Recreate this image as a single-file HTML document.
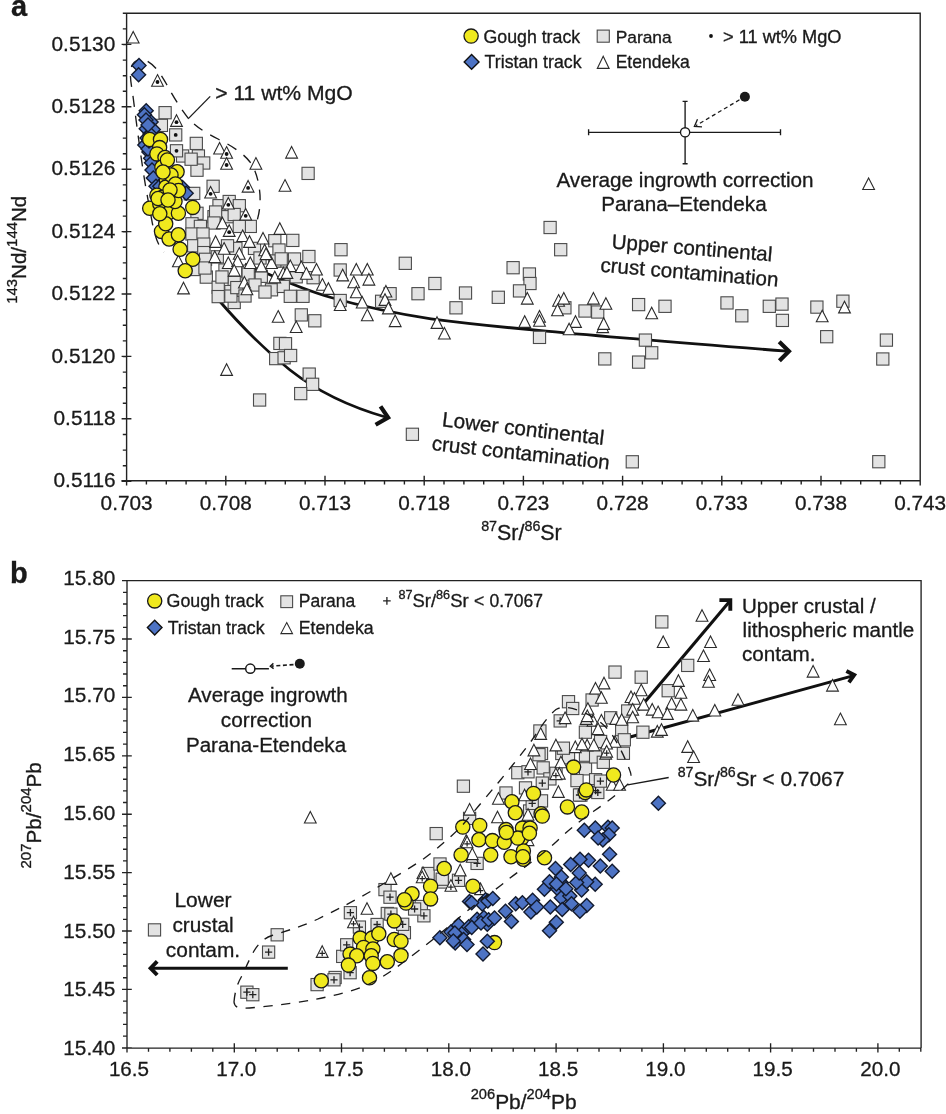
<!DOCTYPE html><html><head><meta charset="utf-8"><style>html,body{margin:0;padding:0;background:#fff;}svg{display:block;will-change:transform;}</style></head><body><svg width="946" height="1114" viewBox="0 0 946 1114" font-family='"Liberation Sans", sans-serif'>
<rect width="946" height="1114" fill="#fff"/>
<path d="M122.8,13.3H920.2V480.7M126.6,13.3V480.7M121.4,480.7H920.2M121.6,44.4H131.4M121.6,106.8H131.4M121.6,169.2H131.4M121.6,231.6H131.4M121.6,294.0H131.4M121.6,356.4H131.4M121.6,418.8H131.4M121.6,481.2H131.4M122.8,13.3H126.6M122.8,28.9H126.6M122.8,44.5H126.6M122.8,60.1H126.6M122.8,75.7H126.6M122.8,91.3H126.6M122.8,106.9H126.6M122.8,122.5H126.6M122.8,138.1H126.6M122.8,153.7H126.6M122.8,169.3H126.6M122.8,184.9H126.6M122.8,200.5H126.6M122.8,216.1H126.6M122.8,231.7H126.6M122.8,247.3H126.6M122.8,262.9H126.6M122.8,278.5H126.6M122.8,294.1H126.6M122.8,309.7H126.6M122.8,325.3H126.6M122.8,340.9H126.6M122.8,356.5H126.6M122.8,372.1H126.6M122.8,387.7H126.6M122.8,403.3H126.6M122.8,418.9H126.6M122.8,434.5H126.6M122.8,450.1H126.6M122.8,465.7H126.6M126.6,475.8V485.6M225.8,475.8V485.6M325.0,475.8V485.6M424.2,475.8V485.6M523.4,475.8V485.6M622.6,475.8V485.6M721.8,475.8V485.6M821.0,475.8V485.6M920.2,475.8V485.6M126.6,480.7V484.4M146.4,480.7V484.4M166.3,480.7V484.4M186.1,480.7V484.4M206.0,480.7V484.4M225.8,480.7V484.4M245.6,480.7V484.4M265.5,480.7V484.4M285.3,480.7V484.4M305.2,480.7V484.4M325.0,480.7V484.4M344.8,480.7V484.4M364.7,480.7V484.4M384.5,480.7V484.4M404.4,480.7V484.4M424.2,480.7V484.4M444.0,480.7V484.4M463.9,480.7V484.4M483.7,480.7V484.4M503.6,480.7V484.4M523.4,480.7V484.4M543.2,480.7V484.4M563.1,480.7V484.4M582.9,480.7V484.4M602.8,480.7V484.4M622.6,480.7V484.4M642.4,480.7V484.4M662.3,480.7V484.4M682.1,480.7V484.4M702.0,480.7V484.4M721.8,480.7V484.4M741.6,480.7V484.4M761.5,480.7V484.4M781.3,480.7V484.4M801.2,480.7V484.4M821.0,480.7V484.4M840.8,480.7V484.4M860.7,480.7V484.4M880.5,480.7V484.4M900.4,480.7V484.4M920.2,480.7V484.4" fill="none" stroke="#222" stroke-width="1.4"/>
<path d="M122,580.6H921.1V1048.1M127.0,580.6V1048.1M122,1048.1H921.1M122,580.6H131.8M122,639.0H131.8M122,697.4H131.8M122,755.8H131.8M122,814.2H131.8M122,872.6H131.8M122,931.0H131.8M122,989.4H131.8M122,1047.8H131.8M123,580.6H127.0M123,592.3H127.0M123,604.0H127.0M123,615.6H127.0M123,627.3H127.0M123,639.0H127.0M123,650.7H127.0M123,662.4H127.0M123,674.0H127.0M123,685.7H127.0M123,697.4H127.0M123,709.1H127.0M123,720.8H127.0M123,732.4H127.0M123,744.1H127.0M123,755.8H127.0M123,767.5H127.0M123,779.2H127.0M123,790.8H127.0M123,802.5H127.0M123,814.2H127.0M123,825.9H127.0M123,837.6H127.0M123,849.2H127.0M123,860.9H127.0M123,872.6H127.0M123,884.3H127.0M123,896.0H127.0M123,907.6H127.0M123,919.3H127.0M123,931.0H127.0M123,942.7H127.0M123,954.4H127.0M123,966.0H127.0M123,977.7H127.0M123,989.4H127.0M123,1001.1H127.0M123,1012.8H127.0M123,1024.4H127.0M123,1036.1H127.0M123,1047.8H127.0M127.0,1043.3V1052.5M234.3,1043.3V1052.5M341.5,1043.3V1052.5M448.8,1043.3V1052.5M556.1,1043.3V1052.5M663.4,1043.3V1052.5M770.6,1043.3V1052.5M877.9,1043.3V1052.5M127.0,1048.1V1051.7M148.5,1048.1V1051.7M169.9,1048.1V1051.7M191.4,1048.1V1051.7M212.8,1048.1V1051.7M234.3,1048.1V1051.7M255.7,1048.1V1051.7M277.2,1048.1V1051.7M298.6,1048.1V1051.7M320.1,1048.1V1051.7M341.5,1048.1V1051.7M363.0,1048.1V1051.7M384.4,1048.1V1051.7M405.9,1048.1V1051.7M427.4,1048.1V1051.7M448.8,1048.1V1051.7M470.3,1048.1V1051.7M491.7,1048.1V1051.7M513.2,1048.1V1051.7M534.6,1048.1V1051.7M556.1,1048.1V1051.7M577.5,1048.1V1051.7M599.0,1048.1V1051.7M620.4,1048.1V1051.7M641.9,1048.1V1051.7M663.4,1048.1V1051.7M684.8,1048.1V1051.7M706.3,1048.1V1051.7M727.7,1048.1V1051.7M749.2,1048.1V1051.7M770.6,1048.1V1051.7M792.1,1048.1V1051.7M813.5,1048.1V1051.7M835.0,1048.1V1051.7M856.4,1048.1V1051.7M877.9,1048.1V1051.7M899.3,1048.1V1051.7M920.8,1048.1V1051.7" fill="none" stroke="#222" stroke-width="1.35"/>
<path d="M188.7,118.8 C180,108 173,96 167,85 C162,76 156,66 147,61 C138,57 131,62 130.5,72 C130,80 132,88 133.5,100 C136,120 140,150 143,170 C146,190 149,205 152.5,224 C155,236 158,246 164,252" fill="none" stroke="#1a1a1a" stroke-width="1.35" stroke-dasharray="11 9"/>
<path d="M188.7,118.8 C196,127 206,133 218,139 C232,146 243,153 250,162 C256,170 259,182 260,195 C260.5,207 259,215 256,224" fill="none" stroke="#1a1a1a" stroke-width="1.35" stroke-dasharray="10.5 9" stroke-dashoffset="12"/>
<path d="M245,264 C273,276 300,289 331,297.5 C366,307.5 396,313.5 431,318.8 C490,326.5 560,333.3 787,351.2" stroke="#111" stroke-width="2.8" fill="none"/>
<path d="M779.2,341.8L788.9,351.3L779.4,360.8" stroke="#111" stroke-width="4.2" fill="none" stroke-linejoin="miter"/>
<path d="M216,297 C240,325 265,350 290,370 C318,392 350,407 387,417.5" stroke="#111" stroke-width="2.8" fill="none"/>
<path d="M380.5,406.3L388.1,417.6L375.6,424.8" stroke="#111" stroke-width="4.2" fill="none" stroke-linejoin="miter"/>
<g fill="#e3e3e3" stroke="#4a4a4a" stroke-width="1.1"><rect x="159.0" y="106.6" width="12.2" height="12.2"/><rect x="155.3" y="119.3" width="12.2" height="12.2"/><rect x="190.2" y="137.3" width="12.2" height="12.2"/><rect x="176.5" y="149.9" width="12.2" height="12.2"/><rect x="192.3" y="149.9" width="12.2" height="12.2"/><rect x="197.6" y="156.9" width="12.2" height="12.2"/><rect x="190.9" y="164.1" width="12.2" height="12.2"/><rect x="185.0" y="153.1" width="12.2" height="12.2"/><rect x="207.0" y="180.2" width="12.2" height="12.2"/><rect x="184.2" y="187.8" width="12.2" height="12.2"/><rect x="212.9" y="199.6" width="12.2" height="12.2"/><rect x="223.1" y="195.4" width="12.2" height="12.2"/><rect x="233.2" y="199.6" width="12.2" height="12.2"/><rect x="190.9" y="207.2" width="12.2" height="12.2"/><rect x="207.9" y="210.6" width="12.2" height="12.2"/><rect x="221.4" y="210.6" width="12.2" height="12.2"/><rect x="187.6" y="187.3" width="12.2" height="12.2"/><rect x="209.5" y="205.9" width="12.2" height="12.2"/><rect x="228.1" y="208.4" width="12.2" height="12.2"/><rect x="185.9" y="217.7" width="12.2" height="12.2"/><rect x="194.3" y="220.3" width="12.2" height="12.2"/><rect x="207.9" y="216.9" width="12.2" height="12.2"/><rect x="244.2" y="220.3" width="12.2" height="12.2"/><rect x="233.2" y="220.3" width="12.2" height="12.2"/><rect x="185.9" y="227.9" width="12.2" height="12.2"/><rect x="196.9" y="227.9" width="12.2" height="12.2"/><rect x="187.6" y="239.7" width="12.2" height="12.2"/><rect x="197.7" y="238.0" width="12.2" height="12.2"/><rect x="197.7" y="246.5" width="12.2" height="12.2"/><rect x="268.7" y="234.6" width="12.2" height="12.2"/><rect x="229.8" y="242.3" width="12.2" height="12.2"/><rect x="248.4" y="242.3" width="12.2" height="12.2"/><rect x="272.9" y="243.9" width="12.2" height="12.2"/><rect x="199.4" y="253.2" width="12.2" height="12.2"/><rect x="211.2" y="250.7" width="12.2" height="12.2"/><rect x="241.7" y="265.1" width="12.2" height="12.2"/><rect x="255.2" y="270.2" width="12.2" height="12.2"/><rect x="200.2" y="271.0" width="12.2" height="12.2"/><rect x="187.6" y="263.4" width="12.2" height="12.2"/><rect x="212.1" y="281.2" width="12.2" height="12.2"/><rect x="228.1" y="276.1" width="12.2" height="12.2"/><rect x="224.8" y="285.4" width="12.2" height="12.2"/><rect x="212.1" y="290.5" width="12.2" height="12.2"/><rect x="228.1" y="296.4" width="12.2" height="12.2"/><rect x="265.4" y="283.7" width="12.2" height="12.2"/><rect x="277.2" y="280.3" width="12.2" height="12.2"/><rect x="277.2" y="254.9" width="12.2" height="12.2"/><rect x="268.7" y="254.9" width="12.2" height="12.2"/><rect x="221.4" y="239.7" width="12.2" height="12.2"/><rect x="224.8" y="290.0" width="12.2" height="12.2"/><rect x="230.7" y="281.5" width="12.2" height="12.2"/><rect x="273.8" y="337.3" width="12.2" height="12.2"/><rect x="269.6" y="352.5" width="12.2" height="12.2"/><rect x="278.0" y="351.7" width="12.2" height="12.2"/><rect x="253.5" y="393.9" width="12.2" height="12.2"/><rect x="302.0" y="167.3" width="12.2" height="12.2"/><rect x="286.7" y="234.3" width="12.2" height="12.2"/><rect x="288.4" y="252.9" width="12.2" height="12.2"/><rect x="302.8" y="250.4" width="12.2" height="12.2"/><rect x="290.1" y="270.7" width="12.2" height="12.2"/><rect x="307.0" y="271.6" width="12.2" height="12.2"/><rect x="284.2" y="290.2" width="12.2" height="12.2"/><rect x="296.9" y="290.2" width="12.2" height="12.2"/><rect x="334.9" y="243.6" width="12.2" height="12.2"/><rect x="334.1" y="263.9" width="12.2" height="12.2"/><rect x="334.1" y="294.4" width="12.2" height="12.2"/><rect x="399.2" y="257.2" width="12.2" height="12.2"/><rect x="384.0" y="287.6" width="12.2" height="12.2"/><rect x="375.5" y="295.2" width="12.2" height="12.2"/><rect x="411.9" y="287.6" width="12.2" height="12.2"/><rect x="295.2" y="308.8" width="12.2" height="12.2"/><rect x="308.7" y="314.7" width="12.2" height="12.2"/><rect x="279.4" y="337.6" width="12.2" height="12.2"/><rect x="284.5" y="349.4" width="12.2" height="12.2"/><rect x="303.1" y="368.0" width="12.2" height="12.2"/><rect x="306.5" y="378.2" width="12.2" height="12.2"/><rect x="294.6" y="387.5" width="12.2" height="12.2"/><rect x="406.3" y="428.2" width="12.2" height="12.2"/><rect x="428.8" y="277.4" width="12.2" height="12.2"/><rect x="459.4" y="286.9" width="12.2" height="12.2"/><rect x="449.9" y="301.7" width="12.2" height="12.2"/><rect x="492.2" y="291.2" width="12.2" height="12.2"/><rect x="507.0" y="261.6" width="12.2" height="12.2"/><rect x="544.0" y="221.4" width="12.2" height="12.2"/><rect x="554.6" y="243.6" width="12.2" height="12.2"/><rect x="523.3" y="267.9" width="12.2" height="12.2"/><rect x="523.9" y="277.4" width="12.2" height="12.2"/><rect x="513.4" y="284.8" width="12.2" height="12.2"/><rect x="533.4" y="331.3" width="12.2" height="12.2"/><rect x="558.8" y="301.7" width="12.2" height="12.2"/><rect x="578.9" y="304.9" width="12.2" height="12.2"/><rect x="591.6" y="305.9" width="12.2" height="12.2"/><rect x="632.5" y="298.5" width="12.2" height="12.2"/><rect x="658.9" y="300.2" width="12.2" height="12.2"/><rect x="639.3" y="334.0" width="12.2" height="12.2"/><rect x="645.6" y="346.7" width="12.2" height="12.2"/><rect x="632.5" y="356.0" width="12.2" height="12.2"/><rect x="598.7" y="352.8" width="12.2" height="12.2"/><rect x="720.9" y="296.8" width="12.2" height="12.2"/><rect x="735.7" y="309.7" width="12.2" height="12.2"/><rect x="763.2" y="300.2" width="12.2" height="12.2"/><rect x="775.9" y="298.0" width="12.2" height="12.2"/><rect x="776.3" y="314.3" width="12.2" height="12.2"/><rect x="810.8" y="301.0" width="12.2" height="12.2"/><rect x="836.8" y="295.1" width="12.2" height="12.2"/><rect x="820.6" y="330.6" width="12.2" height="12.2"/><rect x="880.3" y="334.0" width="12.2" height="12.2"/><rect x="876.7" y="352.9" width="12.2" height="12.2"/><rect x="626.2" y="455.7" width="12.2" height="12.2"/><rect x="872.7" y="455.6" width="12.2" height="12.2"/><rect x="242.1" y="268.0" width="12.2" height="12.2"/><rect x="275.1" y="252.8" width="12.2" height="12.2"/><rect x="218.9" y="263.9" width="12.2" height="12.2"/><rect x="253.9" y="251.9" width="12.2" height="12.2"/><rect x="198.9" y="261.9" width="12.2" height="12.2"/><rect x="215.9" y="270.9" width="12.2" height="12.2"/><rect x="248.9" y="278.9" width="12.2" height="12.2"/><rect x="258.9" y="285.9" width="12.2" height="12.2"/><rect x="238.9" y="289.9" width="12.2" height="12.2"/></g><g fill="#e3e3e3" stroke="#4a4a4a" stroke-width="1.1"><rect x="169.6" y="128.8" width="12.2" height="12.2"/><rect x="170.4" y="144.7" width="12.2" height="12.2"/></g><g fill="#111"><circle cx="175.7" cy="134.9" r="1.9"/><circle cx="176.5" cy="150.8" r="1.9"/></g><g fill="#fff" stroke="#2b2b2b" stroke-width="1.1" stroke-linejoin="miter"><path d="M133.2,31.4L139.1,43.0L127.3,43.0Z"/><path d="M219.6,142.4L225.5,154.0L213.7,154.0Z"/><path d="M255.9,157.6L261.8,169.2L250.0,169.2Z"/><path d="M285,179.6L290.9,191.2L279.1,191.2Z"/><path d="M291.6,146.5L297.5,158.1L285.7,158.1Z"/><path d="M279.8,222.8L285.7,234.4L273.9,234.4Z"/><path d="M222.4,217.2L228.3,228.8L216.5,228.8Z"/><path d="M242.7,229.9L248.6,241.5L236.8,241.5Z"/><path d="M263,232.4L268.9,244.0L257.1,244.0Z"/><path d="M215.6,235.8L221.5,247.4L209.7,247.4Z"/><path d="M224.1,242.6L230.0,254.2L218.2,254.2Z"/><path d="M249.5,235.8L255.4,247.4L243.6,247.4Z"/><path d="M239.3,247.6L245.2,259.2L233.4,259.2Z"/><path d="M264.7,244.2L270.6,255.8L258.8,255.8Z"/><path d="M214.8,251.0L220.7,262.6L208.9,262.6Z"/><path d="M228.3,256.9L234.2,268.5L222.4,268.5Z"/><path d="M250.3,256.9L256.2,268.5L244.4,268.5Z"/><path d="M261.3,260.3L267.2,271.9L255.4,271.9Z"/><path d="M271.5,256.9L277.4,268.5L265.6,268.5Z"/><path d="M237.6,255.2L243.5,266.8L231.7,266.8Z"/><path d="M234.2,264.5L240.1,276.1L228.3,276.1Z"/><path d="M178.4,255.2L184.3,266.8L172.5,266.8Z"/><path d="M183.5,282.3L189.4,293.9L177.6,293.9Z"/><path d="M244.4,276.4L250.3,288.0L238.5,288.0Z"/><path d="M246.9,283.1L252.8,294.7L241.0,294.7Z"/><path d="M274.8,271.3L280.7,282.9L268.9,282.9Z"/><path d="M283.3,267.1L289.2,278.7L277.4,278.7Z"/><path d="M278.2,310.6L284.1,322.2L272.3,322.2Z"/><path d="M226.6,363.8L232.5,375.4L220.7,375.4Z"/><path d="M290.3,260.0L296.2,271.6L284.4,271.6Z"/><path d="M301.3,260.9L307.2,272.5L295.4,272.5Z"/><path d="M316.5,263.4L322.4,275.0L310.6,275.0Z"/><path d="M286.9,266.8L292.8,278.4L281.0,278.4Z"/><path d="M306.4,267.6L312.3,279.2L300.5,279.2Z"/><path d="M322.4,278.6L328.3,290.2L316.5,290.2Z"/><path d="M328.4,282.8L334.3,294.4L322.5,294.4Z"/><path d="M342.7,269.3L348.6,280.9L336.8,280.9Z"/><path d="M356.3,263.4L362.2,275.0L350.4,275.0Z"/><path d="M367.3,263.4L373.2,275.0L361.4,275.0Z"/><path d="M353.7,276.1L359.6,287.7L347.8,287.7Z"/><path d="M368.9,273.5L374.8,285.1L363.0,285.1Z"/><path d="M356.3,286.2L362.2,297.8L350.4,297.8Z"/><path d="M340.2,298.9L346.1,310.5L334.3,310.5Z"/><path d="M362.2,296.4L368.1,308.0L356.3,308.0Z"/><path d="M367.3,309.1L373.2,320.7L361.4,320.7Z"/><path d="M385.9,285.4L391.8,297.0L380.0,297.0Z"/><path d="M385,293.8L390.9,305.4L379.1,305.4Z"/><path d="M388.4,302.3L394.3,313.9L382.5,313.9Z"/><path d="M395.2,315.0L401.1,326.6L389.3,326.6Z"/><path d="M296.2,320.9L302.1,332.5L290.3,332.5Z"/><path d="M437,316.8L442.9,328.4L431.1,328.4Z"/><path d="M444.4,327.4L450.3,339.0L438.5,339.0Z"/><path d="M527.3,292.5L533.2,304.1L521.4,304.1Z"/><path d="M524.7,315.8L530.6,327.4L518.8,327.4Z"/><path d="M539.5,310.5L545.4,322.1L533.6,322.1Z"/><path d="M539.5,314.7L545.4,326.3L533.6,326.3Z"/><path d="M558.6,294.6L564.5,306.2L552.7,306.2Z"/><path d="M563.8,292.5L569.7,304.1L557.9,304.1Z"/><path d="M557.5,304.1L563.4,315.7L551.6,315.7Z"/><path d="M575.5,315.8L581.4,327.4L569.6,327.4Z"/><path d="M569.1,323.2L575.0,334.8L563.2,334.8Z"/><path d="M593.4,292.5L599.3,304.1L587.5,304.1Z"/><path d="M605.9,297.7L611.8,309.3L600.0,309.3Z"/><path d="M602.7,321.0L608.6,332.6L596.8,332.6Z"/><path d="M603.7,317.8L609.6,329.4L597.8,329.4Z"/><path d="M651.7,307.2L657.6,318.8L645.8,318.8Z"/><path d="M868.6,177.9L874.5,189.5L862.7,189.5Z"/><path d="M822.2,310.2L828.1,321.8L816.3,321.8Z"/><path d="M844.5,301.3L850.4,312.9L838.6,312.9Z"/><path d="M266,248.0L271.9,259.6L260.1,259.6Z"/></g><g fill="#fff" stroke="#2b2b2b" stroke-width="1.1" stroke-linejoin="miter"><path d="M157.5,74.6L163.4,86.2L151.6,86.2Z"/><path d="M176.5,114.8L182.4,126.4L170.6,126.4Z"/><path d="M226.6,146.6L232.5,158.2L220.7,158.2Z"/><path d="M226.6,157.6L232.5,169.2L220.7,169.2Z"/><path d="M248.1,180.5L254.0,192.1L242.2,192.1Z"/><path d="M210.6,186.4L216.5,198.0L204.7,198.0Z"/><path d="M228.3,197.4L234.2,209.0L222.4,209.0Z"/><path d="M245.7,208.4L251.6,220.0L239.8,220.0Z"/><path d="M229.2,224.8L235.1,236.4L223.3,236.4Z"/></g><g fill="#111"><circle cx="157.5" cy="82.0" r="1.9"/><circle cx="176.5" cy="122.19999999999999" r="1.9"/><circle cx="226.6" cy="154.0" r="1.9"/><circle cx="226.6" cy="165.0" r="1.9"/><circle cx="248.1" cy="187.9" r="1.9"/><circle cx="210.6" cy="193.79999999999998" r="1.9"/><circle cx="228.3" cy="204.79999999999998" r="1.9"/><circle cx="245.7" cy="215.79999999999998" r="1.9"/><circle cx="229.2" cy="232.2" r="1.9"/></g><g fill="#4d73c4" stroke="#121a2e" stroke-width="1.4" stroke-linejoin="miter"><path d="M139,58.5L146.0,65.5L139,72.5L132.0,65.5Z"/><path d="M138.6,67.8L145.6,74.8L138.6,81.8L131.6,74.8Z"/><path d="M146.2,103.8L153.2,110.8L146.2,117.8L139.2,110.8Z"/><path d="M144.4,107.8L151.4,114.8L144.4,121.8L137.4,114.8Z"/><path d="M151.1,115.0L158.1,122L151.1,129.0L144.1,122Z"/><path d="M146.2,121.69999999999999L153.2,128.7L146.2,135.7L139.2,128.7Z"/><path d="M153.3,122.6L160.3,129.6L153.3,136.6L146.3,129.6Z"/><path d="M144.8,137.9L151.8,144.9L144.8,151.9L137.8,144.9Z"/><path d="M148.9,145.1L155.9,152.1L148.9,159.1L141.9,152.1Z"/><path d="M150.6,151.3L157.6,158.3L150.6,165.3L143.6,158.3Z"/><path d="M151.5,155.8L158.5,162.8L151.5,169.8L144.5,162.8Z"/><path d="M152,163.0L159.0,170L152,177.0L145.0,170Z"/><path d="M153.3,171.1L160.3,178.1L153.3,185.1L146.3,178.1Z"/><path d="M182.5,180.5L189.5,187.5L182.5,194.5L175.5,187.5Z"/><path d="M186.2,186.2L193.2,193.2L186.2,200.2L179.2,193.2Z"/><path d="M156,179.2L163.0,186.2L156,193.2L149.0,186.2Z"/><path d="M148,142.0L155.0,149L148,156.0L141.0,149Z"/><path d="M159.8,179.3L166.8,186.3L159.8,193.3L152.8,186.3Z"/><path d="M150,127.0L157.0,134L150,141.0L143.0,134Z"/><path d="M147,131.0L154.0,138L147,145.0L140.0,138Z"/><path d="M149,134.0L156.0,141L149,148.0L142.0,141Z"/><path d="M146,113.0L153.0,120L146,127.0L139.0,120Z"/><path d="M148,118.0L155.0,125L148,132.0L141.0,125Z"/></g><g fill="#f0e91e" stroke="#1a1a1a" stroke-width="1.3"><circle cx="149.7" cy="139.5" r="7.1"/><circle cx="160.5" cy="139.5" r="7.1"/><circle cx="159.6" cy="147.6" r="7.1"/><circle cx="156.9" cy="153.9" r="7.1"/><circle cx="165" cy="157.5" r="7.1"/><circle cx="161.9" cy="167.3" r="7.1"/><circle cx="177.1" cy="171.8" r="7.1"/><circle cx="166.4" cy="179.9" r="7.1"/><circle cx="165.9" cy="187.1" r="7.1"/><circle cx="173.1" cy="195.2" r="7.1"/><circle cx="156.9" cy="195.2" r="7.1"/><circle cx="167.4" cy="160" r="7.1"/><circle cx="149.7" cy="208.2" r="7.1"/><circle cx="159.8" cy="204" r="7.1"/><circle cx="169.1" cy="212.5" r="7.1"/><circle cx="178.4" cy="213.3" r="7.1"/><circle cx="192.8" cy="207.4" r="7.1"/><circle cx="162.4" cy="197.3" r="7.1"/><circle cx="175" cy="201.5" r="7.1"/><circle cx="158.1" cy="198.5" r="7.1"/><circle cx="161.5" cy="231.4" r="7.1"/><circle cx="169.1" cy="239" r="7.1"/><circle cx="178.4" cy="234.8" r="7.1"/><circle cx="165.7" cy="223.8" r="7.1"/><circle cx="180.1" cy="249.2" r="7.1"/><circle cx="192.8" cy="259.3" r="7.1"/><circle cx="185.2" cy="270.8" r="7.1"/><circle cx="159.8" cy="213.7" r="7.1"/><circle cx="171" cy="175" r="7.1"/><circle cx="163" cy="172" r="7.1"/><circle cx="175.5" cy="184" r="7.1"/><circle cx="178.5" cy="190.5" r="7.1"/><circle cx="170" cy="190" r="7.1"/><circle cx="168" cy="200" r="7.1"/></g>
<path d="M210.2,96.4L188.8,118.1" stroke="#1a1a1a" stroke-width="1.35" fill="none"/>
<path d="M588.6,132.3H780.5M588.6,129.3V135.3M780.5,129.3V135.3M685.1,101.4V163.7M682.6,101.4H687.6M682.6,163.7H687.6" stroke="#1a1a1a" stroke-width="1.35" fill="none"/>
<circle cx="685.1" cy="132.3" r="4.6" fill="#fff" stroke="#1a1a1a" stroke-width="1.35"/>
<circle cx="744.9" cy="96.7" r="5.0" fill="#1a1a1a"/>
<path d="M739.5,99.8L696,125.6" stroke="#1a1a1a" stroke-width="1.3" fill="none" stroke-dasharray="4 3"/>
<path d="M697.5,119.3L694.4,126.5L702,126.8" stroke="#1a1a1a" stroke-width="1.3" fill="none"/>
<circle cx="471.1" cy="36.1" r="7.1" fill="#f0e91e" stroke="#1a1a1a" stroke-width="1.3"/>
<path d="M471.6,54.6L479,61.9L471.6,69.2L464.2,61.9Z" fill="#4d73c4" stroke="#111" stroke-width="1.4"/>
<rect x="597.2" y="30.1" width="12.1" height="12.1" fill="#e3e3e3" stroke="#4a4a4a" stroke-width="1.1"/>
<path d="M603.2,56.2L609.1,68.4L597.3,68.4Z" fill="#fff" stroke="#2b2b2b" stroke-width="1.1"/>
<circle cx="711" cy="36" r="1.9" fill="#111"/>
<path d="M638.1,710L729.5,601.5" stroke="#111" stroke-width="3.1" fill="none"/>
<path d="M719.4,600.1L730.3,600.1L730.3,610.8" stroke="#111" stroke-width="3.9" fill="none" stroke-linejoin="miter" stroke-miterlimit="10"/>
<path d="M630.1,737L853.5,675.6" stroke="#111" stroke-width="2.9" fill="none"/>
<path d="M846.4,670.9L854.2,675L848.9,682.4" stroke="#111" stroke-width="3.9" fill="none" stroke-linejoin="miter" stroke-miterlimit="10"/>
<g fill="#e3e3e3" stroke="#4a4a4a" stroke-width="1.1"><rect x="148.4" y="923.8" width="12.2" height="12.2"/><rect x="271.1" y="928.7" width="12.2" height="12.2"/><rect x="311.0" y="978.5" width="12.2" height="12.2"/><rect x="381.2" y="907.4" width="12.2" height="12.2"/><rect x="378.9" y="883.5" width="12.2" height="12.2"/><rect x="398.3" y="926.6" width="12.2" height="12.2"/><rect x="336.6" y="950.3" width="12.2" height="12.2"/><rect x="329.0" y="971.4" width="12.2" height="12.2"/><rect x="422.0" y="867.4" width="12.2" height="12.2"/><rect x="436.4" y="875.9" width="12.2" height="12.2"/><rect x="415.2" y="900.4" width="12.2" height="12.2"/><rect x="457.3" y="780.1" width="12.2" height="12.2"/><rect x="430.1" y="827.5" width="12.2" height="12.2"/><rect x="463.5" y="812.3" width="12.2" height="12.2"/><rect x="499.9" y="786.9" width="12.2" height="12.2"/><rect x="511.7" y="766.6" width="12.2" height="12.2"/><rect x="519.4" y="781.8" width="12.2" height="12.2"/><rect x="433.9" y="857.9" width="12.2" height="12.2"/><rect x="535.4" y="747.4" width="12.2" height="12.2"/><rect x="537.1" y="761.8" width="12.2" height="12.2"/><rect x="535.4" y="794.8" width="12.2" height="12.2"/><rect x="523.5" y="804.9" width="12.2" height="12.2"/><rect x="555.7" y="747.4" width="12.2" height="12.2"/><rect x="579.4" y="749.1" width="12.2" height="12.2"/><rect x="579.4" y="762.7" width="12.2" height="12.2"/><rect x="570.9" y="774.5" width="12.2" height="12.2"/><rect x="589.5" y="773.6" width="12.2" height="12.2"/><rect x="589.5" y="750.8" width="12.2" height="12.2"/><rect x="562.4" y="751.7" width="12.2" height="12.2"/><rect x="543.8" y="772.8" width="12.2" height="12.2"/><rect x="574.8" y="789.0" width="12.2" height="12.2"/><rect x="608.9" y="666.0" width="12.2" height="12.2"/><rect x="635.1" y="671.1" width="12.2" height="12.2"/><rect x="586.0" y="693.9" width="12.2" height="12.2"/><rect x="562.4" y="695.6" width="12.2" height="12.2"/><rect x="566.6" y="702.4" width="12.2" height="12.2"/><rect x="681.6" y="659.3" width="12.2" height="12.2"/><rect x="662.1" y="684.6" width="12.2" height="12.2"/><rect x="621.6" y="704.9" width="12.2" height="12.2"/><rect x="604.6" y="711.7" width="12.2" height="12.2"/><rect x="579.3" y="726.1" width="12.2" height="12.2"/><rect x="615.6" y="723.5" width="12.2" height="12.2"/><rect x="636.8" y="726.1" width="12.2" height="12.2"/><rect x="618.2" y="733.7" width="12.2" height="12.2"/><rect x="594.5" y="735.4" width="12.2" height="12.2"/><rect x="557.3" y="742.1" width="12.2" height="12.2"/><rect x="617.3" y="747.2" width="12.2" height="12.2"/><rect x="655.7" y="615.8" width="12.2" height="12.2"/><rect x="533.8" y="724.9" width="12.2" height="12.2"/><rect x="597.2" y="756.2" width="12.2" height="12.2"/><rect x="532.9" y="748.6" width="12.2" height="12.2"/><rect x="436.1" y="873.1" width="12.2" height="12.2"/></g><g fill="#e3e3e3" stroke="#4a4a4a" stroke-width="1.1"><rect x="262.5" y="946.0" width="12.2" height="12.2"/><rect x="240.8" y="986.1" width="12.2" height="12.2"/><rect x="246.7" y="988.6" width="12.2" height="12.2"/><rect x="327.9" y="973.7" width="12.2" height="12.2"/><rect x="344.3" y="906.6" width="12.2" height="12.2"/><rect x="353.3" y="921.0" width="12.2" height="12.2"/><rect x="371.0" y="918.4" width="12.2" height="12.2"/><rect x="340.6" y="938.7" width="12.2" height="12.2"/><rect x="344.0" y="966.6" width="12.2" height="12.2"/><rect x="383.9" y="891.1" width="12.2" height="12.2"/><rect x="384.8" y="908.0" width="12.2" height="12.2"/><rect x="396.6" y="918.2" width="12.2" height="12.2"/><rect x="452.4" y="874.2" width="12.2" height="12.2"/><rect x="471.0" y="857.3" width="12.2" height="12.2"/><rect x="417.8" y="909.7" width="12.2" height="12.2"/><rect x="408.5" y="902.9" width="12.2" height="12.2"/><rect x="521.9" y="765.7" width="12.2" height="12.2"/><rect x="536.2" y="777.0" width="12.2" height="12.2"/><rect x="526.1" y="797.3" width="12.2" height="12.2"/><rect x="573.4" y="788.9" width="12.2" height="12.2"/><rect x="589.5" y="784.6" width="12.2" height="12.2"/><rect x="591.7" y="786.4" width="12.2" height="12.2"/><rect x="554.1" y="714.8" width="12.2" height="12.2"/><rect x="549.9" y="767.2" width="12.2" height="12.2"/><rect x="594.3" y="775.0" width="12.2" height="12.2"/></g><g stroke="#222" stroke-width="1.3" fill="none"><path d="M265.0,952.1H272.2M268.6,948.5V955.7"/><path d="M243.3,992.2H250.5M246.9,988.6V995.8"/><path d="M249.2,994.7H256.4M252.8,991.1V998.3"/><path d="M330.4,979.8H337.6M334,976.2V983.4"/><path d="M346.8,912.7H354.0M350.4,909.1V916.3"/><path d="M355.8,927.1H363.0M359.4,923.5V930.7"/><path d="M373.5,924.5H380.7M377.1,920.9V928.1"/><path d="M343.1,944.8H350.3M346.7,941.2V948.4"/><path d="M346.5,972.7H353.7M350.1,969.1V976.3"/><path d="M386.4,897.2H393.6M390,893.6V900.8"/><path d="M387.3,914.1H394.5M390.9,910.5V917.7"/><path d="M399.1,924.3H406.3M402.7,920.7V927.9"/><path d="M454.9,880.3H462.1M458.5,876.7V883.9"/><path d="M473.5,863.4H480.7M477.1,859.8V867.0"/><path d="M420.3,915.8H427.5M423.9,912.2V919.4"/><path d="M411.0,909H418.2M414.6,905.4V912.6"/><path d="M524.4,771.8H531.6M528,768.2V775.4"/><path d="M538.7,783.1H545.9M542.3,779.5V786.7"/><path d="M528.6,803.4H535.8M532.2,799.8V807.0"/><path d="M575.9,795H583.1M579.5,791.4V798.6"/><path d="M592.0,790.7H599.2M595.6,787.1V794.3"/><path d="M594.2,792.5H601.4M597.8,788.9V796.1"/><path d="M556.6,720.9H563.8M560.2,717.3V724.5"/><path d="M552.4,773.3H559.6M556,769.7V776.9"/><path d="M596.8,781.1H604.0M600.4,777.5V784.7"/></g><g fill="#fff" stroke="#2b2b2b" stroke-width="1.1" stroke-linejoin="miter"><path d="M367,902.7L372.9,914.3L361.1,914.3Z"/><path d="M390.9,872.8L396.8,884.4L385.0,884.4Z"/><path d="M423,866.9L428.9,878.5L417.1,878.5Z"/><path d="M460.2,864.3L466.1,875.9L454.3,875.9Z"/><path d="M310.3,811.4L316.2,823.0L304.4,823.0Z"/><path d="M469.6,803.5L475.5,815.1L463.7,815.1Z"/><path d="M497.5,811.2L503.4,822.8L491.6,822.8Z"/><path d="M498.4,792.6L504.3,804.2L492.5,804.2Z"/><path d="M530.5,757.9L536.4,769.5L524.6,769.5Z"/><path d="M533.9,744.3L539.8,755.9L528.0,755.9Z"/><path d="M524.6,789.2L530.5,800.8L518.7,800.8Z"/><path d="M528,808.6L533.9,820.2L522.1,820.2Z"/><path d="M558.4,785.8L564.3,797.4L552.5,797.4Z"/><path d="M560.9,756.2L566.8,767.8L555.0,767.8Z"/><path d="M555.9,739.3L561.8,750.9L550.0,750.9Z"/><path d="M575.3,741.0L581.2,752.6L569.4,752.6Z"/><path d="M587.1,739.3L593.0,750.9L581.2,750.9Z"/><path d="M466.2,834.8L472.1,846.4L460.3,846.4Z"/><path d="M528,834.0L533.9,845.6L522.1,845.6Z"/><path d="M472.2,850.6L478.1,862.2L466.3,862.2Z"/><path d="M663.2,635.9L669.1,647.5L657.3,647.5Z"/><path d="M710.5,635.9L716.4,647.5L704.6,647.5Z"/><path d="M709.7,668.9L715.6,680.5L703.8,680.5Z"/><path d="M604,677.3L609.9,688.9L598.1,688.9Z"/><path d="M595.5,682.4L601.4,694.0L589.6,694.0Z"/><path d="M641.2,684.1L647.1,695.7L635.3,695.7Z"/><path d="M601.4,691.7L607.3,703.3L595.5,703.3Z"/><path d="M631,690.9L636.9,702.5L625.1,702.5Z"/><path d="M634.4,692.6L640.3,704.2L628.5,704.2Z"/><path d="M678.4,674.8L684.3,686.4L672.5,686.4Z"/><path d="M680.9,686.6L686.8,698.2L675.0,698.2Z"/><path d="M671.6,697.6L677.5,709.2L665.7,709.2Z"/><path d="M680.9,698.5L686.8,710.1L675.0,710.1Z"/><path d="M643.7,698.5L649.6,710.1L637.8,710.1Z"/><path d="M652.2,703.5L658.1,715.1L646.3,715.1Z"/><path d="M658.1,706.1L664.0,717.7L652.2,717.7Z"/><path d="M667.4,707.8L673.3,719.4L661.5,719.4Z"/><path d="M632.7,703.5L638.6,715.1L626.8,715.1Z"/><path d="M632.7,711.2L638.6,722.8L626.8,722.8Z"/><path d="M692.8,709.5L698.7,721.1L686.9,721.1Z"/><path d="M714.8,704.4L720.7,716.0L708.9,716.0Z"/><path d="M587.9,702.7L593.8,714.3L582.0,714.3Z"/><path d="M593,714.5L598.9,726.1L587.1,726.1Z"/><path d="M586.2,712.8L592.1,724.4L580.3,724.4Z"/><path d="M565.1,712.0L571.0,723.6L559.2,723.6Z"/><path d="M601.4,714.5L607.3,726.1L595.5,726.1Z"/><path d="M615.8,712.8L621.7,724.4L609.9,724.4Z"/><path d="M621.7,713.7L627.6,725.3L615.8,725.3Z"/><path d="M598.1,723.0L604.0,734.6L592.2,734.6Z"/><path d="M657.3,725.5L663.2,737.1L651.4,737.1Z"/><path d="M661.5,723.8L667.4,735.4L655.6,735.4Z"/><path d="M615,735.7L620.9,747.3L609.1,747.3Z"/><path d="M582,738.2L587.9,749.8L576.1,749.8Z"/><path d="M593.8,739.1L599.7,750.7L587.9,750.7Z"/><path d="M606.5,737.4L612.4,749.0L600.6,749.0Z"/><path d="M605.7,747.5L611.6,759.1L599.8,759.1Z"/><path d="M687.7,740.8L693.6,752.4L681.8,752.4Z"/><path d="M693.6,750.9L699.5,762.5L687.7,762.5Z"/><path d="M702,609.7L707.9,621.3L696.1,621.3Z"/><path d="M703.5,649.9L709.4,661.5L697.6,661.5Z"/><path d="M708.5,675.7L714.4,687.3L702.6,687.3Z"/><path d="M813.1,665.5L819.0,677.1L807.2,677.1Z"/><path d="M832.5,679.5L838.4,691.1L826.6,691.1Z"/><path d="M840.4,713.1L846.3,724.7L834.5,724.7Z"/><path d="M738,693.7L743.9,705.3L732.1,705.3Z"/><path d="M587.3,710.0L593.2,721.6L581.4,721.6Z"/><path d="M540.7,727.8L546.6,739.4L534.8,739.4Z"/><path d="M559.3,767.5L565.2,779.1L553.4,779.1Z"/><path d="M472.3,848.0L478.2,859.6L466.4,859.6Z"/><path d="M612.2,778.7L618.1,790.3L606.3,790.3Z"/><path d="M619.6,778.7L625.5,790.3L613.7,790.3Z"/></g><g fill="#fff" stroke="#2b2b2b" stroke-width="1.1" stroke-linejoin="miter"><path d="M322.2,945.8L328.1,957.4L316.3,957.4Z"/><path d="M353.5,916.2L359.4,927.8L347.6,927.8Z"/><path d="M422.2,871.1L428.1,882.7L416.3,882.7Z"/><path d="M450.9,879.6L456.8,891.2L445.0,891.2Z"/><path d="M480.5,883.0L486.4,894.6L474.6,894.6Z"/><path d="M467.1,836.2L473.0,847.8L461.2,847.8Z"/><path d="M555.9,768.0L561.8,779.6L550.0,779.6Z"/><path d="M606.7,745.5L612.6,757.1L600.8,757.1Z"/></g><g stroke="#222" stroke-width="1.2" fill="none"><path d="M319.4,953.4H325.0M322.2,950.6V956.2"/><path d="M350.7,923.8H356.3M353.5,921.0V926.6"/><path d="M419.4,878.6999999999999H425.0M422.2,875.9V881.5"/><path d="M448.1,887.1999999999999H453.7M450.9,884.4V890.0"/><path d="M477.7,890.5999999999999H483.3M480.5,887.8V893.4"/><path d="M464.3,843.8H469.9M467.1,841.0V846.6"/><path d="M553.1,775.5999999999999H558.7M555.9,772.8V778.4"/><path d="M603.9,753.0999999999999H609.5M606.7,750.3V755.9"/></g><g fill="#f0e91e" stroke="#1a1a1a" stroke-width="1.3"><circle cx="321.3" cy="980.8" r="7.1"/><circle cx="360.2" cy="938.1" r="7.1"/><circle cx="372.1" cy="938.1" r="7.1"/><circle cx="378.8" cy="933.8" r="7.1"/><circle cx="363.6" cy="947.4" r="7.1"/><circle cx="372.9" cy="949" r="7.1"/><circle cx="350.1" cy="954.1" r="7.1"/><circle cx="356.8" cy="955.8" r="7.1"/><circle cx="371.2" cy="955.8" r="7.1"/><circle cx="348.4" cy="965.1" r="7.1"/><circle cx="372.9" cy="963.4" r="7.1"/><circle cx="387.3" cy="961.7" r="7.1"/><circle cx="369.5" cy="977.8" r="7.1"/><circle cx="444.2" cy="868.5" r="7.1"/><circle cx="430.6" cy="886.2" r="7.1"/><circle cx="430.6" cy="898.9" r="7.1"/><circle cx="412" cy="893.8" r="7.1"/><circle cx="406.1" cy="903.1" r="7.1"/><circle cx="404.4" cy="899.7" r="7.1"/><circle cx="472.9" cy="886.2" r="7.1"/><circle cx="394.3" cy="920.9" r="7.1"/><circle cx="394.3" cy="939.5" r="7.1"/><circle cx="401" cy="941.2" r="7.1"/><circle cx="401" cy="955.6" r="7.1"/><circle cx="494.5" cy="942.6" r="7.1"/><circle cx="533.5" cy="793.4" r="7.1"/><circle cx="585.1" cy="792.5" r="7.1"/><circle cx="567.4" cy="806.9" r="7.1"/><circle cx="581.7" cy="812" r="7.1"/><circle cx="541.1" cy="813.7" r="7.1"/><circle cx="522.5" cy="828.1" r="7.1"/><circle cx="530.1" cy="828.1" r="7.1"/><circle cx="521.7" cy="838.2" r="7.1"/><circle cx="523.4" cy="850.9" r="7.1"/><circle cx="523.4" cy="859.3" r="7.1"/><circle cx="544.5" cy="857.7" r="7.1"/><circle cx="573.6" cy="767.1" r="7.1"/><circle cx="586.3" cy="789.9" r="7.1"/><circle cx="511.9" cy="801.7" r="7.1"/><circle cx="515.3" cy="812.7" r="7.1"/><circle cx="542.3" cy="816.1" r="7.1"/><circle cx="462.8" cy="827.1" r="7.1"/><circle cx="479.7" cy="825.4" r="7.1"/><circle cx="506" cy="829.6" r="7.1"/><circle cx="478.9" cy="839.8" r="7.1"/><circle cx="492.4" cy="840.6" r="7.1"/><circle cx="504.3" cy="842.3" r="7.1"/><circle cx="517.8" cy="838.1" r="7.1"/><circle cx="461.1" cy="855" r="7.1"/><circle cx="490.7" cy="855" r="7.1"/><circle cx="511" cy="856.7" r="7.1"/><circle cx="522.9" cy="856.7" r="7.1"/><circle cx="613.5" cy="775" r="7.1"/><circle cx="506.4" cy="832.4" r="7.1"/><circle cx="529.4" cy="833.2" r="7.1"/></g><g fill="#4d73c4" stroke="#121a2e" stroke-width="1.4" stroke-linejoin="miter"><path d="M469.5,894.4L476.5,901.4L469.5,908.4L462.5,901.4Z"/><path d="M485.6,892.7L492.6,899.7L485.6,906.7L478.6,899.7Z"/><path d="M482.2,897.0L489.2,904L482.2,911.0L475.2,904Z"/><path d="M439.9,930.8L446.9,937.8L439.9,944.8L432.9,937.8Z"/><path d="M450.9,924.9L457.9,931.9L450.9,938.9L443.9,931.9Z"/><path d="M458.5,918.1L465.5,925.1L458.5,932.1L451.5,925.1Z"/><path d="M464.5,924.0L471.5,931L464.5,938.0L457.5,931Z"/><path d="M468.7,919.8L475.7,926.8L468.7,933.8L461.7,926.8Z"/><path d="M455.2,935.9L462.2,942.9L455.2,949.9L448.2,942.9Z"/><path d="M463.6,932.5L470.6,939.5L463.6,946.5L456.6,939.5Z"/><path d="M467,937.6L474.0,944.6L467,951.6L460.0,944.6Z"/><path d="M477.1,912.2L484.1,919.2L477.1,926.2L470.1,919.2Z"/><path d="M483.9,910.5L490.9,917.5L483.9,924.5L476.9,917.5Z"/><path d="M487.3,917.3L494.3,924.3L487.3,931.3L480.3,924.3Z"/><path d="M483,946.9L490.0,953.9L483,960.9L476.0,953.9Z"/><path d="M487.3,934.2L494.3,941.2L487.3,948.2L480.3,941.2Z"/><path d="M471.7,895.8L478.7,902.8L471.7,909.8L464.7,902.8Z"/><path d="M487.8,894.1L494.8,901.1L487.8,908.1L480.8,901.1Z"/><path d="M492.8,891.6L499.8,898.6L492.8,905.6L485.8,898.6Z"/><path d="M471.7,920.4L478.7,927.4L471.7,934.4L464.7,927.4Z"/><path d="M481,916.1L488.0,923.1L481,930.1L474.0,923.1Z"/><path d="M488.6,912.7L495.6,919.7L488.6,926.7L481.6,919.7Z"/><path d="M494.5,911.1L501.5,918.1L494.5,925.1L487.5,918.1Z"/><path d="M505.5,904.3L512.5,911.3L505.5,918.3L498.5,911.3Z"/><path d="M511.4,914.4L518.4,921.4L511.4,928.4L504.4,921.4Z"/><path d="M515.7,896.7L522.7,903.7L515.7,910.7L508.70000000000005,903.7Z"/><path d="M522.4,895.8L529.4,902.8L522.4,909.8L515.4,902.8Z"/><path d="M532.6,893.3L539.6,900.3L532.6,907.3L525.6,900.3Z"/><path d="M530.9,905.1L537.9,912.1L530.9,919.1L523.9,912.1Z"/><path d="M536.8,900.1L543.8,907.1L536.8,914.1L529.8,907.1Z"/><path d="M544.4,882.3L551.4,889.3L544.4,896.3L537.4,889.3Z"/><path d="M549.5,874.7L556.5,881.7L549.5,888.7L542.5,881.7Z"/><path d="M561.3,875.5L568.3,882.5L561.3,889.5L554.3,882.5Z"/><path d="M558,882.3L565.0,889.3L558,896.3L551.0,889.3Z"/><path d="M561.3,890.8L568.3,897.8L561.3,904.8L554.3,897.8Z"/><path d="M569.8,889.1L576.8,896.1L569.8,903.1L562.8,896.1Z"/><path d="M550.3,900.1L557.3,907.1L550.3,914.1L543.3,907.1Z"/><path d="M562.2,902.6L569.2,909.6L562.2,916.6L555.2,909.6Z"/><path d="M571.5,896.7L578.5,903.7L571.5,910.7L564.5,903.7Z"/><path d="M581.6,883.1L588.6,890.1L581.6,897.1L574.6,890.1Z"/><path d="M595.2,877.2L602.2,884.2L595.2,891.2L588.2,884.2Z"/><path d="M586.7,874.7L593.7,881.7L586.7,888.7L579.7,881.7Z"/><path d="M586.7,898.4L593.7,905.4L586.7,912.4L579.7,905.4Z"/><path d="M579.9,904.3L586.9,911.3L579.9,918.3L572.9,911.3Z"/><path d="M556.3,915.3L563.3,922.3L556.3,929.3L549.3,922.3Z"/><path d="M549.5,923.7L556.5,930.7L549.5,937.7L542.5,930.7Z"/><path d="M576.6,875.5L583.6,882.5L576.6,889.5L569.6,882.5Z"/><path d="M658.4,796.2L665.4,803.2L658.4,810.2L651.4,803.2Z"/><path d="M584.3,823.3L591.3,830.3L584.3,837.3L577.3,830.3Z"/><path d="M595.3,821.1L602.3,828.1L595.3,835.1L588.3,828.1Z"/><path d="M608,820.2L615.0,827.2L608,834.2L601.0,827.2Z"/><path d="M612.2,821.1L619.2,828.1L612.2,835.1L605.2,828.1Z"/><path d="M608.8,827.8L615.8,834.8L608.8,841.8L601.8,834.8Z"/><path d="M602.9,832.9L609.9,839.9L602.9,846.9L595.9,839.9Z"/><path d="M609.6,847.3L616.6,854.3L609.6,861.3L602.6,854.3Z"/><path d="M600.3,859.1L607.3,866.1L600.3,873.1L593.3,866.1Z"/><path d="M612.2,864.2L619.2,871.2L612.2,878.2L605.2,871.2Z"/><path d="M588.5,853.2L595.5,860.2L588.5,867.2L581.5,860.2Z"/><path d="M580,852.3L587.0,859.3L580,866.3L573.0,859.3Z"/><path d="M570.7,857.4L577.7,864.4L570.7,871.4L563.7,864.4Z"/><path d="M555.5,861.6L562.5,868.6L555.5,875.6L548.5,868.6Z"/><path d="M561.4,870.1L568.4,877.1L561.4,884.1L554.4,877.1Z"/><path d="M579.2,865.9L586.2,872.9L579.2,879.9L572.2,872.9Z"/><path d="M598.1,831.1L605.1,838.1L598.1,845.1L591.1,838.1Z"/><path d="M454.9,926.1L461.9,933.1L454.9,940.1L447.9,933.1Z"/><path d="M453.3,934.0L460.3,941L453.3,948.0L446.3,941Z"/><path d="M556.4,876.9L563.4,883.9L556.4,890.9L549.4,883.9Z"/><path d="M565.9,881.7L572.9,888.7L565.9,895.7L558.9,888.7Z"/></g>
<path d="M234,1002 C235,990 238,982 243,974 C246,967 249,960 254,951 C258,944 264,938 272,935.5 C290,930 305,925 318,919 C340,908 360,898 378,887 C395,877 410,868 422,860 C440,847 450,837 460,828 C472,814 486,797 498,783 C512,766 524,751 532,740 C540,728 548,716 556,709.5 C562,706 570,707 580,711 C595,717 604,724 611,733 C619,745 626,760 630,771 C632,776 631,780 628,784 C620,792 606,803 594,811 C580,821 568,830 556,842 C540,857 520,870 505,882 C490,894 470,908 455,921 C440,934 420,950 405,961 C392,971 380,979 365,986 C340,996 300,1003 260,1007 C250,1008 242,1008.8 238,1007.5 C235.5,1006.5 234.2,1004.5 234,1002Z" fill="none" stroke="#1a1a1a" stroke-width="1.35" stroke-dasharray="9.3 8.5"/>
<path d="M668.7,777.5L627.7,784.8" stroke="#1a1a1a" stroke-width="1.35" fill="none"/>
<path d="M287.8,968.2H152" stroke="#111" stroke-width="3" fill="none"/>
<path d="M157.2,961.4L150.6,968.2L157.2,975" stroke="#111" stroke-width="3.9" fill="none" stroke-linejoin="miter"/>
<path d="M231.7,668.7H268.9" stroke="#1a1a1a" stroke-width="1.35" fill="none"/>
<circle cx="250.3" cy="668.7" r="4.6" fill="#fff" stroke="#1a1a1a" stroke-width="1.5"/>
<circle cx="299.8" cy="663.7" r="5.0" fill="#1a1a1a"/>
<path d="M293.5,664.6L272,666.1" stroke="#1a1a1a" stroke-width="1.6" fill="none" stroke-dasharray="4 2.6"/>
<path d="M273.4,663.4L270.3,666.1L273.6,668.6" stroke="#1a1a1a" stroke-width="1.4" fill="none"/>
<circle cx="154.7" cy="600.9" r="7.1" fill="#f0e91e" stroke="#1a1a1a" stroke-width="1.3"/>
<path d="M154.7,620.3L162,627.6L154.7,634.9L147.4,627.6Z" fill="#4d73c4" stroke="#111" stroke-width="1.4"/>
<rect x="280.8" y="595.8" width="11.8" height="11.8" fill="#e3e3e3" stroke="#4a4a4a" stroke-width="1.1"/>
<path d="M286.7,622.6L292.5,633.6L280.9,633.6Z" fill="#fff" stroke="#2b2b2b" stroke-width="1.1"/>
<path d="M383.1,600.9H390.7M386.9,597.1V604.7" stroke="#222" stroke-width="1.3" fill="none"/>
<text transform="translate(11.00,15.90)" font-size="29" font-weight="bold" fill="#1a1a1a" stroke="#1a1a1a" stroke-width="0.3">a</text>
<text transform="translate(51.50,50.60)" font-size="20.85" fill="#1a1a1a" stroke="#1a1a1a" stroke-width="0.3">0.5130</text>
<text transform="translate(51.50,113.00)" font-size="20.85" fill="#1a1a1a" stroke="#1a1a1a" stroke-width="0.3">0.5128</text>
<text transform="translate(51.50,175.40)" font-size="20.85" fill="#1a1a1a" stroke="#1a1a1a" stroke-width="0.3">0.5126</text>
<text transform="translate(51.50,237.80)" font-size="20.85" fill="#1a1a1a" stroke="#1a1a1a" stroke-width="0.3">0.5124</text>
<text transform="translate(51.50,300.20)" font-size="20.85" fill="#1a1a1a" stroke="#1a1a1a" stroke-width="0.3">0.5122</text>
<text transform="translate(51.50,362.60)" font-size="20.85" fill="#1a1a1a" stroke="#1a1a1a" stroke-width="0.3">0.5120</text>
<text transform="translate(53.50,425.00)" font-size="20.85" fill="#1a1a1a" stroke="#1a1a1a" stroke-width="0.3">0.5118</text>
<text transform="translate(53.50,487.40)" font-size="20.85" fill="#1a1a1a" stroke="#1a1a1a" stroke-width="0.3">0.5116</text>
<text transform="translate(100.60,509.90)" font-size="20.76" fill="#1a1a1a" stroke="#1a1a1a" stroke-width="0.3">0.703</text>
<text transform="translate(199.80,509.90)" font-size="20.76" fill="#1a1a1a" stroke="#1a1a1a" stroke-width="0.3">0.708</text>
<text transform="translate(299.00,509.90)" font-size="20.76" fill="#1a1a1a" stroke="#1a1a1a" stroke-width="0.3">0.713</text>
<text transform="translate(398.20,509.90)" font-size="20.76" fill="#1a1a1a" stroke="#1a1a1a" stroke-width="0.3">0.718</text>
<text transform="translate(497.40,509.90)" font-size="20.76" fill="#1a1a1a" stroke="#1a1a1a" stroke-width="0.3">0.723</text>
<text transform="translate(596.60,509.90)" font-size="20.76" fill="#1a1a1a" stroke="#1a1a1a" stroke-width="0.3">0.728</text>
<text transform="translate(695.80,509.90)" font-size="20.76" fill="#1a1a1a" stroke="#1a1a1a" stroke-width="0.3">0.733</text>
<text transform="translate(795.00,509.90)" font-size="20.76" fill="#1a1a1a" stroke="#1a1a1a" stroke-width="0.3">0.738</text>
<text transform="translate(894.20,509.90)" font-size="20.76" fill="#1a1a1a" stroke="#1a1a1a" stroke-width="0.3">0.743</text>
<text transform="translate(481.16,540.10) scale(1.0447,1.0447)" font-size="20.5" fill="#1a1a1a" stroke="#1a1a1a" stroke-width="0.3"><tspan font-size="13.7" dy="-9.00">87</tspan><tspan font-size="20.5" dy="9.00">Sr/</tspan><tspan font-size="13.7" dy="-9.00">86</tspan><tspan font-size="20.5" dy="9.00">Sr</tspan></text>
<text transform="translate(25.90,302.70) rotate(-90) scale(1.0786,1.0786) translate(-1.00,0)" font-size="19.1" fill="#1a1a1a" stroke="#1a1a1a" stroke-width="0.3"><tspan font-size="13.8" dy="-8.60">143</tspan><tspan font-size="19.1" dy="8.60">Nd/</tspan><tspan font-size="13.8" dy="-8.60">144</tspan><tspan font-size="19.1" dy="8.60">Nd</tspan></text>
<text transform="translate(483.52,42.90) scale(1.0818,1.0818)" font-size="16.4" fill="#1a1a1a" stroke="#1a1a1a" stroke-width="0.3">Gough track</text>
<text transform="translate(484.60,68.30) scale(1.0831,1.0831)" font-size="16.4" fill="#1a1a1a" stroke="#1a1a1a" stroke-width="0.3">Tristan track</text>
<text transform="translate(615.64,42.90) scale(1.0615,1.0615)" font-size="16.4" fill="#1a1a1a" stroke="#1a1a1a" stroke-width="0.3">Parana</text>
<text transform="translate(615.63,68.30) scale(1.0706,1.0706)" font-size="16.4" fill="#1a1a1a" stroke="#1a1a1a" stroke-width="0.3">Etendeka</text>
<text transform="translate(722.99,42.90) scale(1.1105,1.1105)" font-size="16.4" fill="#1a1a1a" stroke="#1a1a1a" stroke-width="0.3">&gt; 11 wt% MgO</text>
<text transform="translate(215.22,99.90) scale(1.0840,1.0840)" font-size="19.5" fill="#1a1a1a" stroke="#1a1a1a" stroke-width="0.3">&gt; 11 wt% MgO</text>
<text transform="translate(556.40,186.70) scale(1.0835,1.0835)" font-size="19.1" fill="#1a1a1a" stroke="#1a1a1a" stroke-width="0.3">Average ingrowth correction</text>
<text transform="translate(601.13,211.00) scale(1.0828,1.0828)" font-size="19.1" fill="#1a1a1a" stroke="#1a1a1a" stroke-width="0.3">Parana–Etendeka</text>
<text transform="translate(612.30,248.50) rotate(4.6) scale(1.0816,1.0816) translate(-1.00,0)" font-size="19.0" fill="#1a1a1a" stroke="#1a1a1a" stroke-width="0.3">Upper continental</text>
<text transform="translate(601.00,271.80) rotate(4.8) scale(1.0847,1.0847) translate(-1.00,0)" font-size="19.0" fill="#1a1a1a" stroke="#1a1a1a" stroke-width="0.3">crust contamination</text>
<text transform="translate(443.70,426.50) rotate(6.6) scale(1.0932,1.0932) translate(-2.00,0)" font-size="19.0" fill="#1a1a1a" stroke="#1a1a1a" stroke-width="0.3">Lower continental</text>
<text transform="translate(432.30,450.20) rotate(6.2) scale(1.0859,1.0859) translate(-1.00,0)" font-size="19.0" fill="#1a1a1a" stroke="#1a1a1a" stroke-width="0.3">crust contamination</text>
<text transform="translate(10.00,582.60)" font-size="29" font-weight="bold" fill="#1a1a1a" stroke="#1a1a1a" stroke-width="0.3">b</text>
<text transform="translate(63.30,584.90)" font-size="20.8" fill="#1a1a1a" stroke="#1a1a1a" stroke-width="0.3">15.80</text>
<text transform="translate(63.30,643.69)" font-size="20.8" fill="#1a1a1a" stroke="#1a1a1a" stroke-width="0.3">15.75</text>
<text transform="translate(63.30,702.48)" font-size="20.8" fill="#1a1a1a" stroke="#1a1a1a" stroke-width="0.3">15.70</text>
<text transform="translate(63.30,761.27)" font-size="20.8" fill="#1a1a1a" stroke="#1a1a1a" stroke-width="0.3">15.65</text>
<text transform="translate(63.30,820.06)" font-size="20.8" fill="#1a1a1a" stroke="#1a1a1a" stroke-width="0.3">15.60</text>
<text transform="translate(63.30,878.85)" font-size="20.8" fill="#1a1a1a" stroke="#1a1a1a" stroke-width="0.3">15.55</text>
<text transform="translate(63.30,937.64)" font-size="20.8" fill="#1a1a1a" stroke="#1a1a1a" stroke-width="0.3">15.50</text>
<text transform="translate(63.30,996.43)" font-size="20.8" fill="#1a1a1a" stroke="#1a1a1a" stroke-width="0.3">15.45</text>
<text transform="translate(63.30,1055.22)" font-size="20.8" fill="#1a1a1a" stroke="#1a1a1a" stroke-width="0.3">15.40</text>
<text transform="translate(108.90,1075.60)" font-size="20.63" fill="#1a1a1a" stroke="#1a1a1a" stroke-width="0.3">16.5</text>
<text transform="translate(216.17,1075.60)" font-size="20.63" fill="#1a1a1a" stroke="#1a1a1a" stroke-width="0.3">17.0</text>
<text transform="translate(323.44,1075.60)" font-size="20.63" fill="#1a1a1a" stroke="#1a1a1a" stroke-width="0.3">17.5</text>
<text transform="translate(430.71,1075.60)" font-size="20.63" fill="#1a1a1a" stroke="#1a1a1a" stroke-width="0.3">18.0</text>
<text transform="translate(537.98,1075.60)" font-size="20.63" fill="#1a1a1a" stroke="#1a1a1a" stroke-width="0.3">18.5</text>
<text transform="translate(645.25,1075.60)" font-size="20.63" fill="#1a1a1a" stroke="#1a1a1a" stroke-width="0.3">19.0</text>
<text transform="translate(752.52,1075.60)" font-size="20.63" fill="#1a1a1a" stroke="#1a1a1a" stroke-width="0.3">19.5</text>
<text transform="translate(860.29,1075.60)" font-size="20.63" fill="#1a1a1a" stroke="#1a1a1a" stroke-width="0.3">20.0</text>
<text transform="translate(470.71,1108.80) scale(1.0854,1.0854)" font-size="19.3" fill="#1a1a1a" stroke="#1a1a1a" stroke-width="0.3"><tspan font-size="13.5" dy="-8.60">206</tspan><tspan font-size="19.3" dy="8.60">Pb/</tspan><tspan font-size="13.5" dy="-8.60">204</tspan><tspan font-size="19.3" dy="8.60">Pb</tspan></text>
<text transform="translate(40.60,867.40) rotate(-90) scale(1.1117,1.1117) translate(-1.00,0)" font-size="18.6" fill="#1a1a1a" stroke="#1a1a1a" stroke-width="0.3"><tspan font-size="13.5" dy="-8.50">207</tspan><tspan font-size="18.6" dy="8.50">Pb/</tspan><tspan font-size="13.5" dy="-8.50">204</tspan><tspan font-size="18.6" dy="8.50">Pb</tspan></text>
<text transform="translate(166.61,606.90) scale(1.0864,1.0864)" font-size="16.4" fill="#1a1a1a" stroke="#1a1a1a" stroke-width="0.3">Gough track</text>
<text transform="translate(167.70,633.60) scale(1.0809,1.0809)" font-size="16.4" fill="#1a1a1a" stroke="#1a1a1a" stroke-width="0.3">Tristan track</text>
<text transform="translate(298.83,606.90) scale(1.0673,1.0673)" font-size="16.4" fill="#1a1a1a" stroke="#1a1a1a" stroke-width="0.3">Parana</text>
<text transform="translate(298.82,633.60) scale(1.0794,1.0794)" font-size="16.4" fill="#1a1a1a" stroke="#1a1a1a" stroke-width="0.3">Etendeka</text>
<text transform="translate(398.47,606.60) scale(1.1262,1.1262)" font-size="16.4" fill="#1a1a1a" stroke="#1a1a1a" stroke-width="0.3"><tspan font-size="11.2" dy="-7.00">87</tspan><tspan font-size="16.4" dy="7.00">Sr/</tspan><tspan font-size="11.2" dy="-7.00">86</tspan><tspan font-size="16.4" dy="7.00">Sr</tspan></text>
<text transform="translate(473.90,606.60)" font-size="17.6" fill="#1a1a1a" stroke="#1a1a1a" stroke-width="0.3">&lt;</text>
<text transform="translate(489.50,606.60) scale(0.9962,0.9962)" font-size="17.6" fill="#1a1a1a" stroke="#1a1a1a" stroke-width="0.3">0.7067</text>
<text transform="translate(188.00,702.10) scale(1.0292,1.0292)" font-size="20.0" fill="#1a1a1a" stroke="#1a1a1a" stroke-width="0.3">Average ingrowth</text>
<text transform="translate(220.76,727.00) scale(1.0395,1.0395)" font-size="20.0" fill="#1a1a1a" stroke="#1a1a1a" stroke-width="0.3">correction</text>
<text transform="translate(185.94,751.80) scale(1.0292,1.0292)" font-size="20.0" fill="#1a1a1a" stroke="#1a1a1a" stroke-width="0.3">Parana-Etendeka</text>
<text transform="translate(742.02,612.90) scale(1.0764,1.0764)" font-size="19.1" fill="#1a1a1a" stroke="#1a1a1a" stroke-width="0.3">Upper crustal /</text>
<text transform="translate(742.62,636.80) scale(1.0777,1.0777)" font-size="19.1" fill="#1a1a1a" stroke="#1a1a1a" stroke-width="0.3">lithospheric mantle</text>
<text transform="translate(742.02,661.10) scale(1.0831,1.0831)" font-size="19.1" fill="#1a1a1a" stroke="#1a1a1a" stroke-width="0.3">contam.</text>
<text transform="translate(677.65,786.10) scale(1.0500,1.0500)" font-size="19.8" fill="#1a1a1a" stroke="#1a1a1a" stroke-width="0.3"><tspan font-size="13.5" dy="-8.50">87</tspan><tspan font-size="19.8" dy="8.50">Sr/</tspan><tspan font-size="13.5" dy="-8.50">86</tspan><tspan font-size="19.8" dy="8.50">Sr</tspan></text>
<text transform="translate(762.60,786.10)" font-size="20.6" fill="#1a1a1a" stroke="#1a1a1a" stroke-width="0.3">&lt;</text>
<text transform="translate(780.39,786.10) scale(1.0148,1.0148)" font-size="20.6" fill="#1a1a1a" stroke="#1a1a1a" stroke-width="0.3">0.7067</text>
<text transform="translate(174.40,907.40) scale(1.0500,1.0500)" font-size="20.0" fill="#1a1a1a" stroke="#1a1a1a" stroke-width="0.3">Lower</text>
<text transform="translate(172.46,932.30) scale(1.0404,1.0404)" font-size="20.0" fill="#1a1a1a" stroke="#1a1a1a" stroke-width="0.3">crustal</text>
<text transform="translate(165.86,957.20) scale(1.0441,1.0441)" font-size="20.0" fill="#1a1a1a" stroke="#1a1a1a" stroke-width="0.3">contam.</text>
</svg></body></html>
